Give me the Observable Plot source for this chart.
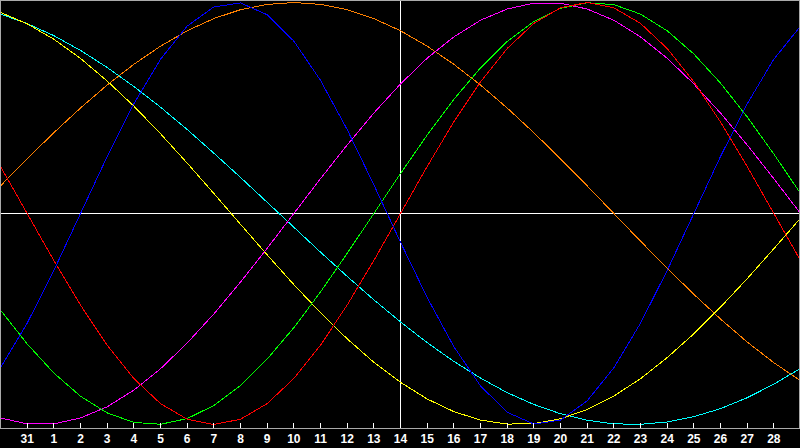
<!DOCTYPE html>
<html>
<head>
<meta charset="utf-8">
<script src="https://cdn.jsdelivr.net/npm/d3@7"></script>
<script src="https://cdn.jsdelivr.net/npm/@observablehq/plot@0.6"></script>
<style>
  html, body { margin: 0; padding: 0; background: #000; }
  #chart svg { display: block; }
</style>
</head>
<body>
<div id="chart"></div>
<script>
// Day slots across the chart (index 0 = Jan 30 ... index 30 = Mar 1)
const dayIndex = [0,1,2,3,4,5,6,7,8,9,10,11,12,13,14,15,16,17,18,19,20,21,22,23,24,25,26,27,28,29,30];
// Tick positions and labels
const tickIndex = [1,2,3,4,5,6,7,8,9,10,11,12,13,14,15,16,17,18,19,20,21,22,23,24,25,26,27,28,29];
const tickLabels = ["31","1","2","3","4","5","6","7","8","9","10","11","12","13","14","15","16","17","18","19","20","21","22","23","24","25","26","27","28"];
const todayIndex = [15];

// Series values, one value per day slot
const physical     = [-0.731,-0.520,-0.270,0.000,0.270,0.520,0.731,0.888,0.979,0.998,0.942,0.817,0.631,0.398,0.136,-0.136,-0.398,-0.631,-0.817,-0.942,-0.998,-0.979,-0.888,-0.731,-0.520,-0.270,0.000,0.270,0.520,0.731,0.888];
const emotional    = [0.223,0.000,-0.223,-0.434,-0.624,-0.782,-0.901,-0.975,-1.000,-0.975,-0.901,-0.782,-0.624,-0.434,-0.223,0.000,0.223,0.434,0.624,0.782,0.901,0.975,1.000,0.975,0.901,0.782,0.624,0.434,0.223,0.000,-0.223];
const intellectual = [-0.458,-0.618,-0.756,-0.866,-0.945,-0.990,-0.999,-0.972,-0.910,-0.815,-0.690,-0.541,-0.372,-0.189,0.000,0.189,0.372,0.541,0.690,0.815,0.910,0.972,0.999,0.990,0.945,0.866,0.756,0.618,0.458,0.282,0.095];
const intuitive    = [-0.969,-0.997,-0.997,-0.969,-0.916,-0.837,-0.736,-0.614,-0.476,-0.325,-0.165,0.000,0.165,0.325,0.476,0.614,0.736,0.837,0.916,0.969,0.997,0.997,0.969,0.916,0.837,0.736,0.614,0.476,0.325,0.165,0.000];
const aesthetic    = [0.953,0.899,0.826,0.735,0.628,0.509,0.378,0.239,0.095,-0.051,-0.196,-0.337,-0.470,-0.594,-0.705,-0.800,-0.879,-0.939,-0.979,-0.998,-0.996,-0.973,-0.929,-0.865,-0.783,-0.683,-0.570,-0.444,-0.309,-0.167,-0.022];
const awareness    = [0.131,0.259,0.383,0.500,0.609,0.707,0.793,0.866,0.924,0.966,0.991,1.000,0.991,0.966,0.924,0.866,0.793,0.707,0.609,0.500,0.383,0.259,0.131,0.000,-0.131,-0.259,-0.383,-0.500,-0.609,-0.707,-0.793];
const spiritual    = [0.945,0.900,0.843,0.773,0.692,0.602,0.504,0.398,0.286,0.171,0.053,-0.065,-0.183,-0.298,-0.409,-0.514,-0.612,-0.701,-0.780,-0.849,-0.905,-0.949,-0.980,-0.997,-0.999,-0.988,-0.963,-0.925,-0.873,-0.809,-0.734];

const seriesNames  = ["awareness","spiritual","aesthetic","intuitive","intellectual","emotional","physical"];
const seriesValues = [awareness, spiritual, aesthetic, intuitive, intellectual, emotional, physical];
const seriesColors = ["#ff8000","#00ffff","#ffff00","#ff00ff","#00ff00","#ff0000","#0000ff"];

const rows = [];
seriesNames.forEach((name, s) => {
  dayIndex.forEach((d, i) => rows.push({series: name, day: d, value: seriesValues[s][i]}));
});

const chart = Plot.plot({
  width: 800,
  height: 448,
  marginTop: 0,
  marginRight: 0,
  marginBottom: 20,
  marginLeft: 0,
  style: {background: "#000", color: "#fff", fontFamily: "'Liberation Sans', Arial, sans-serif", fontSize: "12px", fontWeight: "bold"},
  x: {domain: [0, 30], axis: null, label: null},
  y: {domain: [-1, 1], range: [424, 2], axis: null, label: null},
  color: {type: "ordinal", domain: seriesNames, range: seriesColors},
  marks: [
    Plot.ruleY([0], {stroke: "#ffffff", shapeRendering: "crispEdges"}),
    Plot.ruleX(todayIndex, {x: d => d, stroke: "#ffffff", shapeRendering: "crispEdges"}),
    Plot.line(rows, {x: "day", y: "value", z: "series", stroke: "series", strokeWidth: 1, shapeRendering: "crispEdges"}),
    Plot.ruleX(tickIndex, {x: d => d, stroke: "#ffffff", insetTop: 423, shapeRendering: "crispEdges"}),
    Plot.frame({stroke: "#aaaaaa", insetRight: 1, shapeRendering: "crispEdges"}),
    Plot.axisX(tickIndex, {
      label: null,
      tickSize: 0,
      tickPadding: 6,
      tickFormat: d => tickLabels[tickIndex.indexOf(d)],
      fill: "#ffffff",
      fontSize: 12,
      fontWeight: "bold"
    })
  ]
});
document.getElementById("chart").appendChild(chart);
</script>
</body>
</html>
